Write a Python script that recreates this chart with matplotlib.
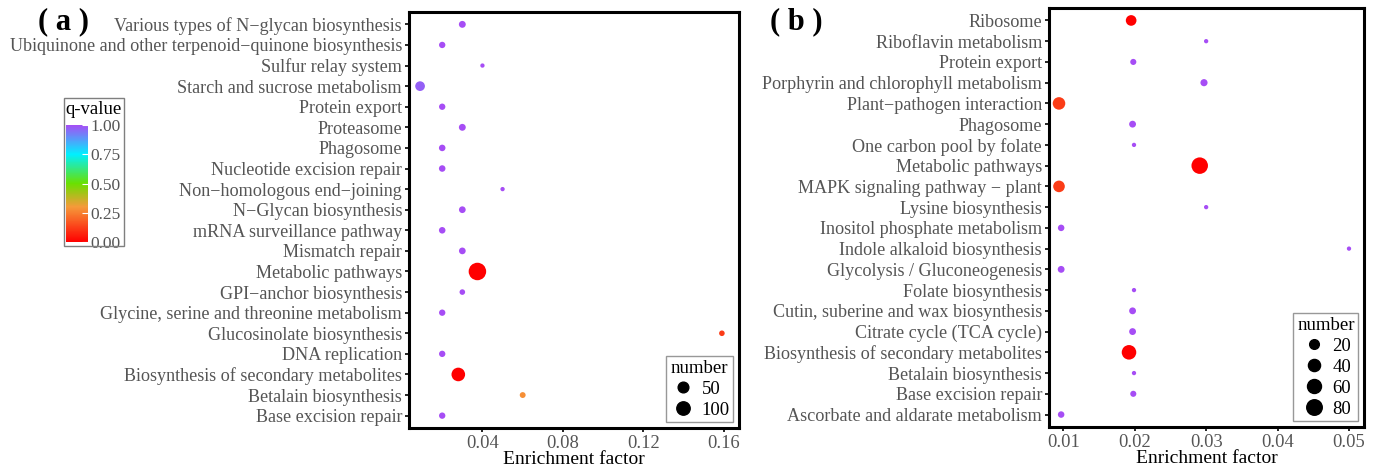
import matplotlib
matplotlib.use('Agg')
import matplotlib.pyplot as plt
import numpy as np
from matplotlib.colors import LinearSegmentedColormap, Normalize
from matplotlib.lines import Line2D
from matplotlib.patches import Rectangle
import matplotlib.colorbar as mcolorbar

plt.rcParams['font.family'] = ['Liberation Serif', 'DejaVu Serif']

# ---- Panel (a) data (top to bottom) ----
PATH_A = [
    'Various types of N\u2212glycan biosynthesis',
    'Ubiquinone and other terpenoid\u2212quinone biosynthesis',
    'Sulfur relay system',
    'Starch and sucrose metabolism',
    'Protein export',
    'Proteasome',
    'Phagosome',
    'Nucleotide excision repair',
    'Non\u2212homologous end\u2212joining',
    'N\u2212Glycan biosynthesis',
    'mRNA surveillance pathway',
    'Mismatch repair',
    'Metabolic pathways',
    'GPI\u2212anchor biosynthesis',
    'Glycine, serine and threonine metabolism',
    'Glucosinolate biosynthesis',
    'DNA replication',
    'Biosynthesis of secondary metabolites',
    'Betalain biosynthesis',
    'Base excision repair',
]
EF_A = [0.030, 0.020, 0.040, 0.009, 0.020, 0.030, 0.020, 0.020, 0.050, 0.030,
        0.020, 0.030, 0.0375, 0.030, 0.020, 0.159, 0.020, 0.028, 0.060, 0.020]
NUM_A = [9, 6, 1, 36, 6, 9, 7, 7, 1, 8, 7, 8, 210, 3, 6, 3, 6, 105, 4, 6]
Q_A = [1.0, 1.0, 1.0, 0.97, 1.0, 1.0, 1.0, 1.0, 1.0, 1.0,
       1.0, 1.0, 0.0, 1.0, 1.0, 0.12, 1.0, 0.0, 0.28, 1.0]

# ---- Panel (b) data (top to bottom) ----
PATH_B = [
    'Ribosome',
    'Riboflavin metabolism',
    'Protein export',
    'Porphyrin and chlorophyll metabolism',
    'Plant\u2212pathogen interaction',
    'Phagosome',
    'One carbon pool by folate',
    'Metabolic pathways',
    'MAPK signaling pathway \u2212 plant',
    'Lysine biosynthesis',
    'Inositol phosphate metabolism',
    'Indole alkaloid biosynthesis',
    'Glycolysis / Gluconeogenesis',
    'Folate biosynthesis',
    'Cutin, suberine and wax biosynthesis',
    'Citrate cycle (TCA cycle)',
    'Biosynthesis of secondary metabolites',
    'Betalain biosynthesis',
    'Base excision repair',
    'Ascorbate and aldarate metabolism',
]
EF_B = [0.0195, 0.030, 0.0198, 0.0297, 0.0094, 0.0197, 0.0199, 0.0291, 0.0094, 0.030,
        0.0097, 0.050, 0.0097, 0.0199, 0.0197, 0.0197, 0.0192, 0.0199, 0.0198, 0.0097]
NUM_B = [27, 2, 4, 7, 44, 6, 2, 94, 35, 2, 5, 2, 6, 2, 6, 6, 67, 2, 4, 5]
Q_B = [0.0, 1.0, 1.0, 1.0, 0.12, 1.0, 1.0, 0.0, 0.12, 1.0,
       1.0, 1.0, 1.0, 1.0, 1.0, 1.0, 0.0, 1.0, 1.0, 1.0]

LEG_A = [50, 100]
LEG_B = [20, 40, 60, 80]

CMAP = LinearSegmentedColormap.from_list(
    'qv', [(0.0, '#FF0000'), (0.3, '#F59A3A'), (0.5, '#6AE000'),
           (0.75, '#00F0FF'), (1.0, '#A64DF5')])
NORM = Normalize(0, 1)
GRAY = '#555555'
PX = 0.72  # points per pixel at dpi 100


def diam(n, nmin, nmax, dmin=4.3, dmax=17.5):
    # ggplot-like area scale: diameter grows with sqrt of rescaled value
    t = (np.asarray(n, float) - nmin) / (nmax - nmin)
    return (dmin + (dmax - dmin) * np.sqrt(np.clip(t, 0, None))) * PX


def draw_panel(ax, paths, ef, num, q, xlim, xticks, xticklabels, leg_vals, dmax):
    y = np.arange(len(paths))[::-1]
    nmin, nmax = min(num), max(num)
    d = diam(num, nmin, nmax, dmax=dmax)
    ax.scatter(ef, y, s=d ** 2, c=q, cmap=CMAP, norm=NORM, edgecolors='none', zorder=3)
    ax.set_xlim(*xlim)
    ax.set_ylim(-0.6, len(paths) - 0.4)
    ax.set_yticks(y)
    ax.set_yticklabels(paths, fontsize=13.1, color=GRAY)
    ax.set_xticks(xticks)
    ax.set_xticklabels(xticklabels, fontsize=13.3, color=GRAY)
    ax.tick_params(length=3, width=1.2, color='black', pad=2)
    ax.set_xlabel('Enrichment factor', fontsize=14, labelpad=-1)
    for sp in ax.spines.values():
        sp.set_linewidth(2.2)

    handles = [Line2D([], [], marker='o', linestyle='', color='black',
                      markersize=float(diam(v, nmin, nmax, dmax=dmax)))
               for v in leg_vals]
    leg = ax.legend(handles, [str(v) for v in leg_vals], title='number',
                    loc='lower right', fontsize=13.5,
                    title_fontsize=13.5, frameon=True, fancybox=False,
                    handletextpad=0.3, labelspacing=0.2, borderpad=0.2,
                    handlelength=1.4, borderaxespad=0.3)
    leg.get_frame().set_edgecolor('#7F7F7F')
    leg.get_frame().set_linewidth(1.0)


fig = plt.figure(figsize=(13.81, 4.70), dpi=100)

ax_a = fig.add_axes([409 / 1381, 1 - 428 / 470, 330 / 1381, 416 / 470])
draw_panel(ax_a, PATH_A, EF_A, NUM_A, Q_A, (0.0035, 0.1675),
           [0.04, 0.08, 0.12, 0.16], ['0.04', '0.08', '0.12', '0.16'],
           LEG_A, 17.5)

ax_b = fig.add_axes([1049 / 1381, 1 - 427 / 470, 315 / 1381, 419 / 470])
draw_panel(ax_b, PATH_B, EF_B, NUM_B, Q_B, (0.008, 0.0521),
           [0.01, 0.02, 0.03, 0.04, 0.05], ['0.01', '0.02', '0.03', '0.04', '0.05'],
           LEG_B, 16.5)

# q-value colourbar legend
fig.patches.append(Rectangle((64 / 1381, 1 - 246 / 470), 60 / 1381, 148 / 470,
                             transform=fig.transFigure, fill=False,
                             edgecolor='#7F7F7F', linewidth=1.0))
fig.text(65 / 1381, 1 - 109 / 470, 'q-value', fontsize=13.5, va='center', ha='left')
cax = fig.add_axes([66 / 1381, 1 - 242 / 470, 22 / 1381, 117 / 470])
cb = mcolorbar.ColorbarBase(cax, cmap=CMAP, norm=NORM, orientation='vertical',
                            ticks=[0, 0.25, 0.5, 0.75, 1.0])
cb.outline.set_visible(False)
cb.ax.set_yticklabels(['0.00', '0.25', '0.50', '0.75', '1.00'], fontsize=12.5, color=GRAY)
cb.ax.tick_params(length=4, width=0.8, color='white', direction='in', pad=2)

# panel tags
fig.text(38 / 1381, 1 - 22 / 470, '( a )', fontsize=22, fontweight='bold', va='center')
fig.text(770 / 1381, 1 - 22 / 470, '( b )', fontsize=22, fontweight='bold', va='center')

fig.savefig('out.png', dpi=100, facecolor='white')
